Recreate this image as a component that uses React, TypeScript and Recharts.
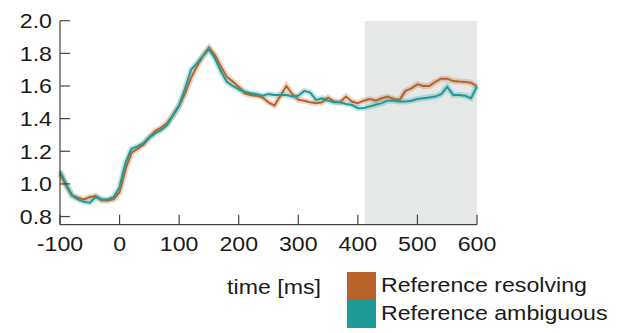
import React from 'react';
import { ComposedChart, Line, XAxis, YAxis, ReferenceArea, Customized } from 'recharts';

const times = [-100, -90, -80, -70, -60, -50, -40, -30, -20, -10, 0, 10, 20, 30, 40, 50, 60, 70, 80, 90, 100, 110, 120, 130, 140, 150, 160, 170, 180, 190, 200, 210, 220, 230, 240, 250, 260, 270, 280, 290, 300, 310, 320, 330, 340, 350, 360, 370, 380, 390, 400, 410, 420, 430, 440, 450, 460, 470, 480, 490, 500, 510, 520, 530, 540, 550, 560, 570, 580, 590, 600];

const resolving = [1.06, 0.99, 0.93, 0.915, 0.905, 0.92, 0.925, 0.9, 0.898, 0.905, 0.95, 1.09, 1.19, 1.215, 1.24, 1.285, 1.325, 1.345, 1.375, 1.42, 1.48, 1.555, 1.65, 1.72, 1.785, 1.835, 1.79, 1.72, 1.657, 1.627, 1.596, 1.555, 1.545, 1.54, 1.53, 1.5, 1.48, 1.54, 1.6, 1.55, 1.515, 1.51, 1.5, 1.495, 1.5, 1.53, 1.505, 1.5, 1.535, 1.505, 1.495, 1.51, 1.52, 1.51, 1.525, 1.535, 1.52, 1.515, 1.57, 1.585, 1.61, 1.6, 1.6, 1.625, 1.645, 1.645, 1.63, 1.627, 1.625, 1.62, 1.597];

const ambiguous = [1.08, 1.0, 0.93, 0.905, 0.89, 0.885, 0.92, 0.905, 0.905, 0.92, 0.98, 1.13, 1.215, 1.23, 1.25, 1.285, 1.31, 1.33, 1.36, 1.425, 1.48, 1.586, 1.7, 1.74, 1.784, 1.825, 1.77, 1.69, 1.626, 1.6, 1.58, 1.565, 1.555, 1.55, 1.54, 1.55, 1.545, 1.545, 1.545, 1.535, 1.54, 1.57, 1.56, 1.515, 1.525, 1.51, 1.5, 1.5, 1.49, 1.484, 1.464, 1.465, 1.475, 1.485, 1.495, 1.51, 1.51, 1.505, 1.505, 1.51, 1.52, 1.525, 1.53, 1.535, 1.55, 1.595, 1.545, 1.545, 1.54, 1.525, 1.597];

const xTicks = [-100, 0, 100, 200, 300, 400, 500, 600];
const yTicks = [0.8, 1.0, 1.2, 1.4, 1.6, 1.8, 2.0];
const shadeStart = 412;
const shadeEnd = 600;
const xLabel = 'time [ms]';
const seriesNames = ['Reference resolving', 'Reference ambiguous'];

const ORANGE = '#b8632a';
const TEAL = '#1f9a96';
const FONT = '"Liberation Sans", Arial, Helvetica, sans-serif';
const FS = 20.5;
const SX = 1.13;

const data = times.map((t, i) => ({ t, res: resolving[i], amb: ambiguous[i] }));

const YTick = (props: any) => {
  const { x, y, payload } = props;
  return (
    <g>
      <line x1={x} x2={x + 10} y1={y} y2={y} stroke="#444" strokeWidth={1.2} />
      <g transform={`translate(${x - 8},${y + 7.5}) scale(${SX},1)`}>
        <text x={0} y={0} textAnchor="end" fontFamily={FONT} fontSize={FS} fill="#1a1a1a">
          {Number(payload.value).toFixed(1)}
        </text>
      </g>
    </g>
  );
};

const XTick = (props: any) => {
  const { x, y, payload } = props;
  return (
    <g>
      <line x1={x} x2={x} y1={y} y2={y - 10} stroke="#444" strokeWidth={1.2} />
      <g transform={`translate(${x},${y + 26}) scale(${SX},1)`}>
        <text x={0} y={0} textAnchor="middle" fontFamily={FONT} fontSize={FS} fill="#1a1a1a">
          {String(payload.value)}
        </text>
      </g>
    </g>
  );
};

const Extras = () => (
  <g>
    <g transform={`translate(274,294) scale(${SX},1)`}>
      <text x={0} y={0} textAnchor="middle" fontFamily={FONT} fontSize={FS} fill="#1a1a1a">{xLabel}</text>
    </g>
    <rect x={347} y={272} width={29} height={28} fill={ORANGE} />
    <rect x={347} y={300} width={29} height={28} fill={TEAL} />
    <g transform={`translate(381,292) scale(${SX},1)`}>
      <text x={0} y={0} fontFamily={FONT} fontSize={FS} fill="#1a1a1a">{seriesNames[0]}</text>
    </g>
    <g transform={`translate(381,320) scale(${SX},1)`}>
      <text x={0} y={0} fontFamily={FONT} fontSize={FS} fill="#1a1a1a">{seriesNames[1]}</text>
    </g>
  </g>
);

export default function App() {
  return (
    <div style={{ position: 'absolute', left: 0, top: 0, width: 624, height: 333, background: '#fff' }}>
      <ComposedChart width={624} height={333} data={data} margin={{ top: 20.7, right: 147, left: 0, bottom: 0 }}>
        <ReferenceArea x1={shadeStart} x2={shadeEnd} y1={0.75} y2={2.0} fill="#e6e7e7" fillOpacity={1} stroke="none" ifOverflow="hidden" />
        <XAxis
          dataKey="t"
          type="number"
          domain={[-100, 600]}
          ticks={xTicks}
          height={108.3}
          tickSize={0}
          tickMargin={0}
          tickLine={false}
          tick={<XTick />}
          axisLine={{ stroke: '#444', strokeWidth: 1.2 }}
          interval={0}
        />
        <YAxis
          type="number"
          domain={[0.75, 2.0]}
          ticks={yTicks}
          width={60}
          tickSize={0}
          tickMargin={0}
          tickLine={false}
          tick={<YTick />}
          axisLine={{ stroke: '#444', strokeWidth: 1.2 }}
          allowDataOverflow
          interval={0}
        />
        <Line dataKey="res" stroke={ORANGE} strokeWidth={6} strokeOpacity={0.25} dot={false} isAnimationActive={false} type="linear" />
        <Line dataKey="amb" stroke={TEAL} strokeWidth={6} strokeOpacity={0.25} dot={false} isAnimationActive={false} type="linear" />
        <Line dataKey="res" stroke={ORANGE} strokeWidth={2} dot={false} isAnimationActive={false} type="linear" />
        <Line dataKey="amb" stroke={TEAL} strokeWidth={2} dot={false} isAnimationActive={false} type="linear" />
        <Customized component={Extras} />
      </ComposedChart>
    </div>
  );
}
